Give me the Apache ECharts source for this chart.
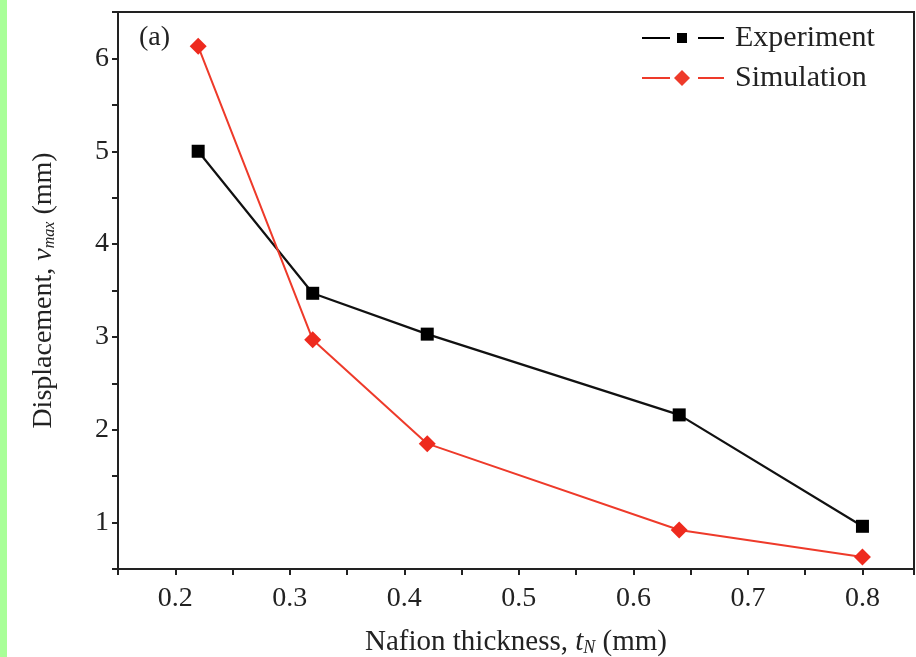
<!DOCTYPE html>
<html><head><meta charset="utf-8">
<script src="https://cdn.jsdelivr.net/npm/echarts@6/dist/echarts.min.js"></script>
<style>html,body{margin:0;padding:0;background:#fff}#c{width:916px;height:657px}</style>
</head><body><div id="c"></div>
<script>
const thickness = [0.22, 0.32, 0.42, 0.64, 0.80];
const experiment = [5.00, 3.47, 3.03, 2.16, 0.96];
const simulation = [6.13, 2.97, 1.85, 0.92, 0.63];
const seriesNames = ['Experiment', 'Simulation'];

const F = '"Liberation Serif", "DejaVu Serif", serif';
const chart = echarts.init(document.getElementById('c'));
const pair = (xs, ys) => xs.map((x, i) => [x, ys[i]]);

chart.setOption({
  backgroundColor: '#fff',
  animation: false,
  graphic: [
    { type: 'rect', left: 0, top: 0, shape: { width: 7, height: 657 }, style: { fill: '#a8ff98' } },
    { type: 'text', left: 139, top: 24, style: { text: '(a)', font: '28px ' + F, fill: '#222' } }
  ],
  grid: { left: 118, top: 12, right: 2, bottom: 88, show: true, borderColor: '#222', borderWidth: 2,
          backgroundColor: '#fff', containLabel: false, outerBoundsMode: 'none' },
  legend: {
    left: 637, top: 18, orient: 'vertical', itemWidth: 82, itemHeight: 16, itemGap: 10,
    textStyle: { fontFamily: F, fontSize: 30, color: '#222', padding: [0, 0, 0, 6] },
    data: [
      { name: seriesNames[0], icon: 'path://M0,7H28V9H0Z M35,3H45V13H35Z M56,7H82V9H56Z', itemStyle: { color: '#000' } },
      { name: seriesNames[1], icon: 'path://M0,7H28V9H0Z M40,0L48,8L40,16L32,8Z M56,7H82V9H56Z', itemStyle: { color: '#ee3a2a' } }
    ]
  },
  xAxis: {
    type: 'value', min: 0.15, max: 0.845, interval: 0.05,
    name: '{n|Nafion thickness, }{i|t}{s|N}{n| (mm)}',
    nameLocation: 'middle', nameGap: 58,
    nameTextStyle: { rich: {
      n: { fontFamily: F, fontSize: 29, color: '#222' },
      i: { fontFamily: F, fontSize: 29, fontStyle: 'italic', color: '#222' },
      s: { fontFamily: F, fontSize: 18, fontStyle: 'italic', color: '#222', verticalAlign: 'bottom', padding: [12, 0, 0, 0] }
    } },
    axisLine: { lineStyle: { color: '#222', width: 2 } },
    axisTick: { inside: false, length: 6, lineStyle: { color: '#222', width: 2 } },
    axisLabel: {
      fontFamily: F, fontSize: 28, color: '#222', margin: 16,
      formatter: v => Math.abs(v * 10 - Math.round(v * 10)) < 1e-6 ? v.toFixed(1) : ''
    },
    splitLine: { show: false }
  },
  yAxis: {
    type: 'value', min: 0.5, max: 6.5, interval: 0.5,
    name: '{n|Displacement, }{i|v}{s|max}{n| (mm)}',
    nameLocation: 'middle', nameGap: 60, nameRotate: 90,
    nameTextStyle: { rich: {
      n: { fontFamily: F, fontSize: 28, color: '#222' },
      i: { fontFamily: F, fontSize: 28, fontStyle: 'italic', color: '#222' },
      s: { fontFamily: F, fontSize: 16, fontStyle: 'italic', color: '#222', verticalAlign: 'bottom', padding: [11, 0, 0, 0] }
    } },
    axisLine: { show: true, lineStyle: { color: '#222', width: 2 } },
    axisTick: { show: true, inside: false, length: 6, lineStyle: { color: '#222', width: 2 } },
    axisLabel: {
      fontFamily: F, fontSize: 28, color: '#222', margin: 9,
      formatter: v => Math.abs(v - Math.round(v)) < 1e-6 ? String(Math.round(v)) : ''
    },
    splitLine: { show: false }
  },
  series: [
    { name: seriesNames[0], type: 'line', data: pair(thickness, experiment),
      symbol: 'rect', symbolSize: 13, color: '#000',
      lineStyle: { color: '#111', width: 2.2 }, itemStyle: { color: '#000' } },
    { name: seriesNames[1], type: 'line', data: pair(thickness, simulation),
      symbol: 'diamond', symbolSize: 17, color: '#ee2a1e',
      lineStyle: { color: '#ee3a2a', width: 2 }, itemStyle: { color: '#ee2a1e' } }
  ]
});
</script></body></html>
